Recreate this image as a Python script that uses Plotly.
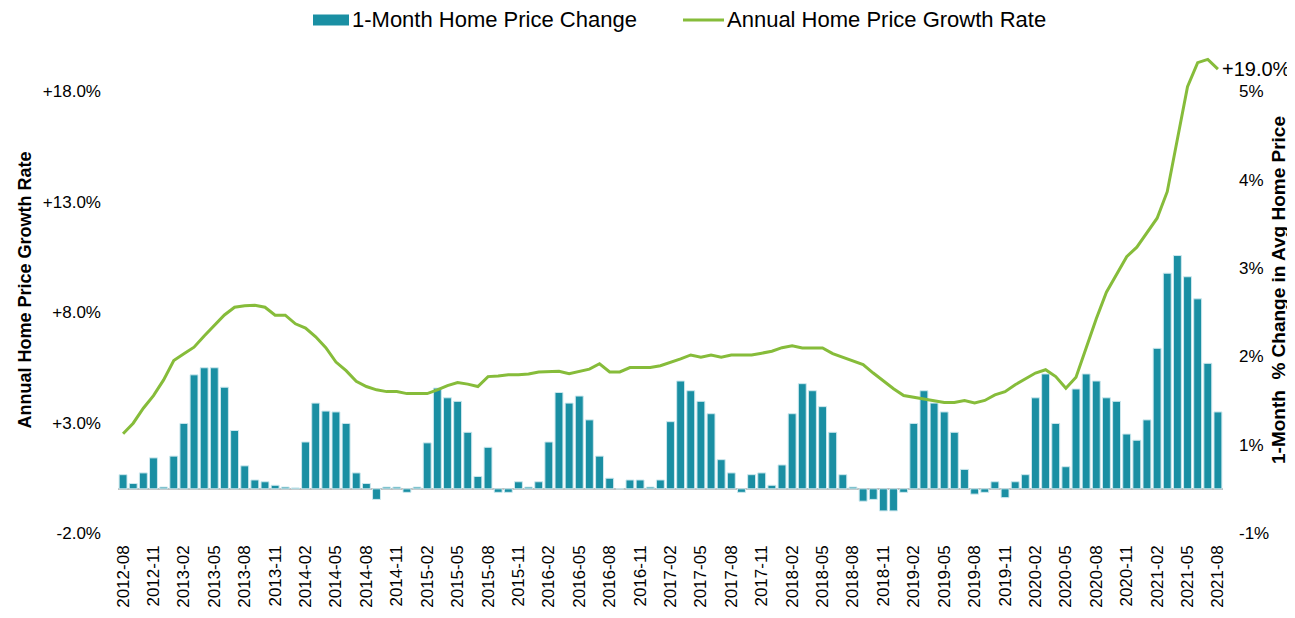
import plotly.graph_objects as go

# ---- data ----
months = []
y, m = 2012, 8
for _ in range(109):
    months.append(f"{y}-{m:02d}")
    m += 1
    if m > 12:
        m = 1
        y += 1

one_month_change = [
    0.16, 0.06, 0.18, 0.35, 0.02, 0.37, 0.74, 1.29, 1.37, 1.37, 1.15, 0.66,
    0.26, 0.10, 0.08, 0.04, 0.02, 0.01, 0.53, 0.97, 0.88, 0.87, 0.74, 0.18,
    0.06, -0.12, 0.02, 0.02, -0.04, 0.02, 0.52, 1.14, 1.03, 0.99, 0.64, 0.14,
    0.47, -0.04, -0.04, 0.08, 0.02, 0.08, 0.53, 1.09, 0.97, 1.05, 0.78, 0.37,
    0.12, 0.00, 0.10, 0.10, 0.02, 0.10, 0.76, 1.22, 1.11, 0.99, 0.85, 0.33,
    0.18, -0.04, 0.16, 0.18, 0.04, 0.27, 0.85, 1.19, 1.11, 0.93, 0.64, 0.16,
    0.02, -0.14, -0.12, -0.25, -0.25, -0.04, 0.74, 1.11, 0.97, 0.87, 0.64, 0.22,
    -0.06, -0.04, 0.08, -0.10, 0.08, 0.16, 1.03, 1.30, 0.74, 0.25, 1.13, 1.30,
    1.22, 1.03, 0.99, 0.62, 0.55, 0.78, 1.59, 2.44, 2.64, 2.40, 2.15, 1.42,
    0.87,
]

annual_growth = [
    2.49, 2.97, 3.65, 4.22, 4.93, 5.81, 6.11, 6.41, 6.92, 7.42, 7.87, 8.22,
    8.29, 8.31, 8.22, 7.86, 7.86, 7.47, 7.28, 6.88, 6.39, 5.74, 5.35, 4.87,
    4.63, 4.48, 4.40, 4.40, 4.31, 4.31, 4.31, 4.48, 4.67, 4.81, 4.74, 4.63,
    5.08, 5.11, 5.16, 5.16, 5.20, 5.29, 5.32, 5.32, 5.21, 5.32, 5.42, 5.66,
    5.29, 5.29, 5.49, 5.49, 5.49, 5.57, 5.72, 5.88, 6.06, 5.96, 6.06, 5.96,
    6.06, 6.06, 6.06, 6.14, 6.23, 6.39, 6.47, 6.38, 6.38, 6.38, 6.12, 5.96,
    5.81, 5.62, 5.24, 4.88, 4.53, 4.22, 4.15, 4.07, 3.98, 3.91, 3.91, 4.00,
    3.89, 4.00, 4.25, 4.40, 4.71, 4.98, 5.24, 5.39, 5.08, 4.55, 5.05, 6.37,
    7.70, 8.90, 9.72, 10.51, 10.94, 11.57, 12.25, 13.45, 15.90, 18.20, 19.29, 19.44,
    19.00,
]

series_names = ["1-Month Home Price Change", "Annual Home Price Growth Rate"]
x_tickvals = months[::3]
left_tickvals = [-2, 3, 8, 13, 18]
left_ticktext = ["-2.0%", "+3.0%", "+8.0%", "+13.0%", "+18.0%"]
right_tickvals = [-0.5, 0.5, 1.5, 2.5, 3.5, 4.5]
right_ticktext = ["-1%", "1%", "2%", "3%", "4%", "5%"]

# ---- style / layout ----
FONT = "Liberation Sans, Arial, sans-serif"
BAR_COLOR = "#1A8FA3"
LINE_COLOR = "#86BC3A"

W, H = 1287, 610          # page has an 8px body margin
ML, MR, MT, MB = 110, 72, 39, 85
PW, PH = W - ML - MR, H - MT - MB


def pxx(xf):
    return (xf - ML) / PW


def pxy(yf):
    return (MT + PH - yf) / PH


fig = go.Figure()
fig.add_trace(go.Bar(
    x=months, y=one_month_change, name=series_names[0],
    marker=dict(color=BAR_COLOR, line=dict(color="#CDE8EE", width=1)),
    yaxis="y",
))
fig.add_trace(go.Scatter(
    x=months, y=annual_growth, name=series_names[1],
    mode="lines", line=dict(color=LINE_COLOR, width=3),
    yaxis="y2",
))

# end-of-line value label
fig.add_annotation(
    x=months[-1], y=annual_growth[-1], xref="x", yref="y2",
    text=f"{annual_growth[-1]:+.1f}%", showarrow=False,
    xanchor="left", yanchor="middle", xshift=2,
    font=dict(family=FONT, size=20, color="#000000"),
)

# custom legend (top centre)
LEG_Y = 12
fig.add_shape(type="rect", xref="paper", yref="paper",
              x0=pxx(305), x1=pxx(341), y0=pxy(LEG_Y - 5.5), y1=pxy(LEG_Y + 5.5),
              fillcolor=BAR_COLOR, line=dict(width=0))
fig.add_annotation(xref="paper", yref="paper", x=pxx(342), y=pxy(LEG_Y),
                   text=series_names[0], showarrow=False,
                   xanchor="left", yanchor="middle",
                   font=dict(family=FONT, size=22, color="#000000"))
fig.add_shape(type="line", xref="paper", yref="paper",
              x0=pxx(675), x1=pxx(716), y0=pxy(LEG_Y), y1=pxy(LEG_Y),
              line=dict(color=LINE_COLOR, width=3))
fig.add_annotation(xref="paper", yref="paper", x=pxx(717), y=pxy(LEG_Y),
                   text=series_names[1], showarrow=False,
                   xanchor="left", yanchor="middle",
                   font=dict(family=FONT, size=22, color="#000000"))

fig.update_layout(
    width=W, height=H,
    margin=dict(l=ML, r=MR, t=MT, b=MB, autoexpand=False),
    paper_bgcolor="white", plot_bgcolor="white",
    font=dict(family=FONT, color="#000000"),
    bargap=0.22,
    showlegend=False,
    xaxis=dict(
        type="category", range=[-0.5, len(months) - 0.5],
        tickmode="array", tickvals=x_tickvals,
        tickangle=-90, tickfont=dict(size=17), showgrid=False,
        showline=False, ticks="", ticklabelstandoff=8, automargin=False,
    ),
    yaxis=dict(
        side="right", range=[-0.5, 5.0], tickmode="array",
        tickvals=right_tickvals, ticktext=right_ticktext,
        tickfont=dict(size=17), showgrid=False, showline=False, ticks="",
        zeroline=True, zerolinecolor="#BFBFBF", zerolinewidth=2,
        ticklabelstandoff=15, automargin=False,
        title=dict(text="<b>1-Month  % Change in Avg Home Price</b>",
                   font=dict(size=19), standoff=3),
    ),
    yaxis2=dict(
        side="left", overlaying="y", range=[-2, 20], tickmode="array",
        tickvals=left_tickvals, ticktext=left_ticktext,
        tickfont=dict(size=17), showgrid=False, showline=False, ticks="",
        zeroline=False, ticklabelstandoff=16, automargin=False,
        title=dict(text="<b>Annual Home Price Growth Rate</b>",
                   font=dict(size=18), standoff=6),
    ),
)

fig.write_html("out.html")
